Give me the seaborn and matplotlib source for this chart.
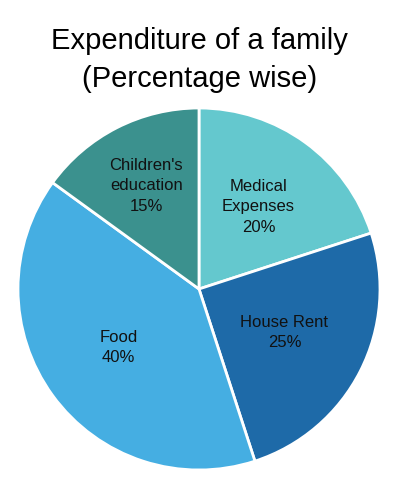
import matplotlib
matplotlib.use("Agg")
import matplotlib.pyplot as plt
import seaborn as sns
import numpy as np

categories = ["Medical\nExpenses", "House Rent", "Food", "Children's\neducation"]
shares = [20, 25, 40, 15]
colors = ["#64C8CE", "#1E6AA8", "#45AEE2", "#3B918E"]
label_dist = [0.56, 0.53, 0.55, 0.64]

sns.set_theme(style="white")
plt.rcParams["font.family"] = ["Liberation Sans", "DejaVu Sans"]

fig = plt.figure(figsize=(3.99, 4.98), dpi=100)
ax = fig.add_axes([18 / 399, 28 / 498, 362 / 399, 362 / 498])

wedges, texts, autotexts = ax.pie(
    shares, colors=colors, startangle=90, counterclock=False,
    autopct="%d%%", pctdistance=0.55,
    wedgeprops=dict(edgecolor="white", linewidth=2),
    textprops=dict(fontsize=12, color="#111111"),
)
for w, t, name, d in zip(wedges, autotexts, categories, label_dist):
    ang = np.deg2rad((w.theta1 + w.theta2) / 2)
    t.set_position((d * np.cos(ang), d * np.sin(ang)))
    t.set_text(name + "\n" + t.get_text())
    t.set_ha("center")
    t.set_va("center")
    t.set_linespacing(1.45)

ax.set_xlim(-1, 1)
ax.set_ylim(-1, 1)
ax.set_aspect("equal")
ax.axis("off")

fig.text(0.5, 1 - 60 / 498, "Expenditure of a family\n(Percentage wise)",
         ha="center", va="center", fontsize=21, linespacing=1.45, color="black")

fig.savefig("out.png", dpi=100)
